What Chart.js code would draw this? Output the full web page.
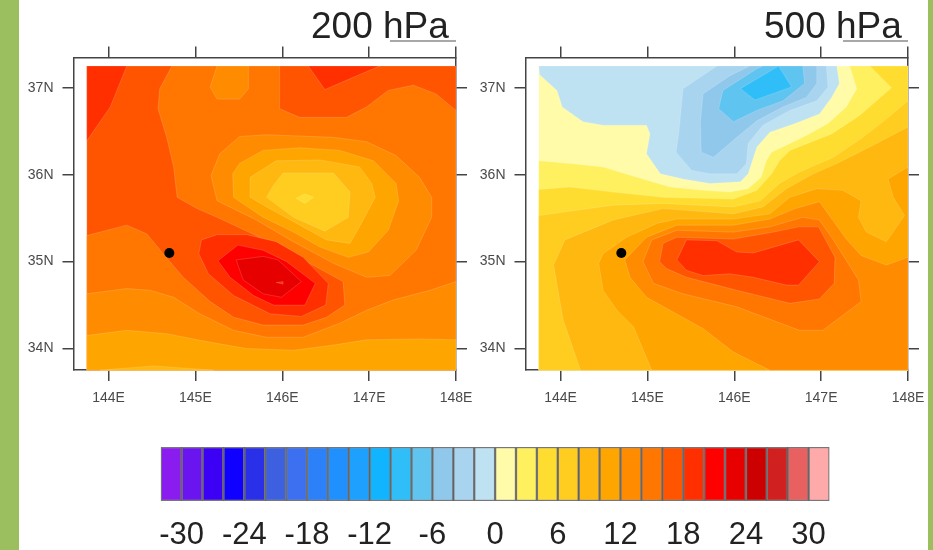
<!DOCTYPE html>
<html>
<head>
  <title>200 hPa / 500 hPa</title>
  <script src="https://cdn.jsdelivr.net/npm/chart.js"></script>
  <style>
    html, body { margin: 0; padding: 0; background: #fff; }
    body { width: 933px; height: 550px; position: relative; overflow: hidden; font-family: "Liberation Sans", sans-serif; }
    .strip { position: absolute; top: 0; height: 550px; background: #9bbf5e; z-index: 2; }
    /* the source picture is a soft screenshot */
    canvas { position: absolute; filter: blur(0.6px); }
    .title { position: absolute; top: 4px; font-size: 37px; line-height: 44px; color: #222; white-space: nowrap; }
    .crumb { position: absolute; top: 40px; height: 2px; background: #a8a8a8; }
  </style>
</head>
<body>
  <div class="strip" style="left:0;width:19px"></div>
  <div class="strip" style="left:928px;width:5px"></div>

  <canvas id="map200" width="470" height="370" style="left:20px;top:40px"></canvas>
  <canvas id="map500" width="470" height="370" style="left:472px;top:40px"></canvas>
  <canvas id="colorBar" width="800" height="120" style="left:100px;top:430px"></canvas>

  <div class="title" style="left:311px">200 hPa</div>
  <div class="title" style="left:764px">500 hPa</div>
  <div class="crumb" style="left:390px;width:66px"></div>
  <div class="crumb" style="left:843px;width:65px"></div>

  <script>
    const lonTicks = [144, 145, 146, 147, 148];
    const latTicks = [34, 35, 36, 37];
    const barTicks = [-30, -24, -18, -12, -6, 0, 6, 12, 18, 24, 30];
    const station = [144.7, 35.1];

    // colour bar: 2 unit bins from -32 to 32
    const barEdges = [-32, -30, -28, -26, -24, -22, -20, -18, -16, -14, -12, -10, -8, -6, -4, -2, 0,
      2, 4, 6, 8, 10, 12, 14, 16, 18, 20, 22, 24, 26, 28, 30, 32];
    const barColors = ['#8a1cf0', '#6a14f0', '#3c00f5', '#1000ff', '#2a30e8', '#3c60e0', '#3c70f0', '#2c80f8',
      '#2090ff', '#1ea0ff', '#10b4ff', '#30bef8', '#60c4f0', '#90c8ec', '#a8d4f0', '#bee2f2',
      '#fffba8', '#fff060', '#ffdd30', '#ffcc20', '#ffb810', '#ffa500', '#ff8c00', '#ff7700',
      '#ff5500', '#ff2f00', '#ff0000', '#e60000', '#cc0000', '#d02020', '#e86060', '#ffaaaa'];

    // 200 hPa contour rings, [lon, lat]
    const full = [[143.75, 37.25], [148, 37.25], [148, 33.75], [143.75, 33.75]];
    const a200TopLeft = [[143.75, 37.25], [144.21, 37.25], [144.02, 36.78], [143.75, 36.39]];
    const a200TopMid = [[146.30, 37.25], [147.12, 37.25], [146.49, 36.98]];
    const a200Main = [[144.73, 37.25], [144.59, 36.99], [144.57, 36.76], [144.67, 36.43], [144.75, 36.09], [144.79, 35.74],
      [145.02, 35.61], [145.25, 35.51], [145.70, 35.30], [146.05, 35.11], [146.39, 34.94], [146.70, 34.77], [146.72, 34.50],
      [146.51, 34.36], [146.24, 34.27], [145.78, 34.27], [145.44, 34.36], [145.17, 34.54], [144.86, 34.82], [144.63, 35.09],
      [144.44, 35.32], [144.21, 35.42], [143.75, 35.30], [143.75, 33.75], [148, 33.75], [148, 36.74], [147.77, 36.93],
      [147.51, 37.03], [147.22, 36.97], [146.97, 36.78], [146.74, 36.66], [146.20, 36.66], [145.97, 36.76], [145.97, 37.25]];
    const a200South12 = [[143.75, 34.63], [144.21, 34.69], [144.48, 34.67], [144.75, 34.59], [145.05, 34.40], [145.44, 34.21],
      [145.82, 34.13], [146.24, 34.13], [146.66, 34.29], [146.97, 34.44], [147.28, 34.56], [147.70, 34.67], [148, 34.77],
      [148, 33.75], [143.75, 33.75]];
    const a200South10 = [[143.75, 34.15], [144.21, 34.21], [144.67, 34.17], [145.13, 34.08], [145.59, 34.00], [146.13, 33.98],
      [146.59, 34.04], [146.97, 34.10], [147.58, 34.11], [148, 34.10], [148, 33.75], [143.75, 33.75]];
    const a200South8 = [[143.90, 33.75], [144.52, 33.80], [145.21, 33.75]];
    const a200Patch = [[145.25, 37.25], [145.61, 37.25], [145.61, 36.99], [145.51, 36.87], [145.25, 36.87], [145.17, 37.01]];
    const a200Low12 = [[145.51, 36.44], [145.82, 36.46], [146.59, 36.43], [146.97, 36.38], [147.31, 36.22], [147.58, 35.97],
      [147.72, 35.74], [147.72, 35.51], [147.54, 35.13], [147.24, 34.84], [146.97, 34.82], [146.59, 34.98], [146.09, 35.25],
      [145.70, 35.48], [145.25, 35.70], [145.18, 35.99], [145.28, 36.24]];
    const a200Low10 = [[145.78, 36.28], [146.20, 36.31], [146.66, 36.28], [147.05, 36.16], [147.31, 35.90], [147.34, 35.70],
      [147.22, 35.36], [146.99, 35.11], [146.76, 35.05], [146.43, 35.17], [146.13, 35.34], [145.78, 35.51], [145.44, 35.74],
      [145.43, 36.01], [145.51, 36.13]];
    const a200Low8 = [[145.93, 36.16], [146.43, 36.17], [146.89, 36.09], [147.03, 35.90], [147.07, 35.74], [146.91, 35.44],
      [146.78, 35.21], [146.51, 35.25], [146.13, 35.46], [145.82, 35.63], [145.63, 35.74], [145.63, 35.97]];
    const a200Low6 = [[146.01, 36.02], [146.59, 36.02], [146.78, 35.80], [146.76, 35.51], [146.49, 35.35], [146.13, 35.51],
      [145.82, 35.74], [145.90, 35.88]];
    const a200Low4 = [[146.16, 35.73], [146.26, 35.78], [146.36, 35.74], [146.26, 35.67]];
    const a200High18 = [[145.25, 35.31], [145.59, 35.31], [145.93, 35.23], [146.24, 35.05], [146.53, 34.75], [146.50, 34.50],
      [146.22, 34.37], [145.86, 34.40], [145.44, 34.61], [145.15, 34.86], [145.04, 35.09], [145.07, 35.25]];
    const a200High20 = [[145.49, 35.19], [145.78, 35.13], [146.05, 35.00], [146.38, 34.75], [146.26, 34.50], [145.90, 34.50],
      [145.67, 34.61], [145.40, 34.82], [145.26, 35.01]];
    const a200High22 = [[145.47, 35.02], [145.78, 35.06], [145.95, 35.02], [146.22, 34.77], [145.99, 34.59], [145.78, 34.63],
      [145.55, 34.79]];
    const a200Spot = [[145.93, 34.76], [146.01, 34.77], [146.01, 34.74]];

    // 500 hPa contour rings, [lon, lat]
    const b500Ge2 = [[143.75, 36.16], [144.11, 36.13], [144.49, 36.09], [144.88, 35.97], [145.26, 35.86], [145.64, 35.82],
      [145.95, 35.80], [146.16, 35.84], [146.31, 35.97], [146.37, 36.16], [146.43, 36.26], [146.60, 36.34], [146.83, 36.45],
      [147.08, 36.59], [147.29, 36.78], [147.41, 36.99], [147.33, 37.25], [148, 37.25], [148, 33.75], [143.75, 33.75]];
    const b500Ge4 = [[143.75, 35.83], [144.11, 35.86], [144.61, 35.80], [145.18, 35.74], [145.99, 35.72], [146.26, 35.82],
      [146.43, 36.01], [146.52, 36.16], [146.64, 36.28], [146.79, 36.34], [147.12, 36.47], [147.44, 36.68], [147.81, 37.00],
      [147.56, 37.25], [148, 37.25], [148, 33.75], [143.75, 33.75]];
    const b500Ge6 = [[143.75, 35.53], [144.03, 35.57], [144.61, 35.65], [145.18, 35.67], [145.99, 35.63], [146.30, 35.70],
      [146.52, 35.90], [146.75, 36.03], [147.14, 36.20], [147.48, 36.43], [147.75, 36.64], [148, 36.85], [148, 33.75], [143.75, 33.75]];
    const b500Ge8 = [[144.23, 33.75], [144.03, 34.33], [143.92, 34.96], [144.05, 35.25], [144.61, 35.48], [145.18, 35.61],
      [145.99, 35.55], [146.33, 35.63], [146.60, 35.84], [146.91, 36.01], [147.18, 36.13], [147.56, 36.32], [148, 36.55], [148, 33.75]];
    const b500Ge10 = [[145.05, 33.75], [144.84, 34.25], [144.65, 34.44], [144.49, 34.67], [144.44, 34.98], [144.49, 35.09],
      [144.76, 35.28], [145.11, 35.44], [145.34, 35.49], [145.99, 35.49], [146.41, 35.55], [146.64, 35.74], [146.95, 35.84],
      [147.25, 35.82], [147.46, 35.70], [147.43, 35.51], [147.52, 35.34], [147.75, 35.23], [147.96, 35.53], [147.83, 35.74],
      [147.77, 35.95], [148, 36.09], [148, 33.75]];
    const b500Ge12 = [[146.41, 33.75], [145.99, 33.96], [145.64, 34.23], [145.26, 34.44], [144.99, 34.59], [144.80, 34.82],
      [144.74, 35.02], [144.99, 35.28], [145.34, 35.42], [145.99, 35.42], [146.41, 35.49], [146.70, 35.61], [146.98, 35.69],
      [147.29, 35.26], [147.46, 35.07], [147.75, 34.96], [148, 35.05], [148, 33.75]];
    const b500Ge14 = [[144.95, 35.00], [145.07, 34.75], [145.41, 34.63], [146.03, 34.48], [146.75, 34.21], [147.02, 34.21],
      [147.46, 34.54], [147.43, 34.79], [147.14, 35.25], [146.98, 35.48], [146.79, 35.51], [146.41, 35.40], [145.99, 35.34],
      [145.34, 35.36], [145.05, 35.25]];
    const b500Ge16 = [[145.14, 35.00], [145.18, 35.21], [145.34, 35.28], [145.99, 35.26], [146.45, 35.34], [146.74, 35.40],
      [146.97, 35.40], [147.16, 35.05], [147.15, 34.75], [146.98, 34.57], [146.64, 34.52], [146.03, 34.67], [145.45, 34.82], [145.22, 34.92]];
    const b500Ge18 = [[145.34, 35.02], [145.45, 35.25], [145.80, 35.24], [146.03, 35.11], [146.22, 35.10], [146.74, 35.25],
      [146.98, 35.00], [146.74, 34.73], [146.60, 34.73], [146.22, 34.82], [145.95, 34.86], [145.64, 34.84], [145.45, 34.90]];
    const b500Lt0 = [[143.75, 37.25], [147.18, 37.25], [147.21, 37.05], [147.12, 36.89], [146.98, 36.70], [146.70, 36.59],
      [146.41, 36.49], [146.26, 36.32], [146.16, 36.01], [146.07, 35.92], [145.72, 35.90], [145.41, 35.95], [145.15, 36.01],
      [144.99, 36.24], [145.03, 36.47], [144.99, 36.57], [144.49, 36.57], [144.26, 36.61], [144.02, 36.78], [143.96, 36.97], [143.76, 37.15]];
    const b500Lt2 = [[145.41, 36.99], [145.80, 37.25], [147.06, 37.25], [147.08, 37.01], [146.95, 36.85], [146.64, 36.74],
      [146.33, 36.57], [146.16, 36.36], [146.14, 36.13], [146.03, 36.01], [145.72, 36.01], [145.51, 36.05], [145.33, 36.26], [145.36, 36.47]];
    const b500Lt4 = [[145.64, 36.93], [145.95, 37.14], [146.18, 37.25], [146.95, 37.25], [146.95, 37.05], [146.83, 36.89],
      [146.56, 36.78], [146.26, 36.62], [146.03, 36.43], [145.76, 36.20], [145.62, 36.26], [145.61, 36.59]];
    const b500Lt6 = [[145.82, 36.76], [145.87, 36.97], [146.26, 37.22], [146.33, 37.25], [146.79, 37.25], [146.81, 37.05],
      [146.56, 36.85], [146.26, 36.74], [145.99, 36.61]];
    const b500Lt8 = [[146.07, 36.99], [146.51, 37.25], [146.66, 37.01], [146.24, 36.86]];

    // painting order, bottom first: [bin lower edge, ring]
    const layers200 = [[16, full], [18, a200TopLeft], [18, a200TopMid], [14, a200Main], [12, a200South12], [10, a200South10],
      [8, a200South8], [12, a200Patch], [12, a200Low12], [10, a200Low10], [8, a200Low8], [6, a200Low6], [4, a200Low4],
      [18, a200High18], [20, a200High20], [22, a200High22], [18, a200Spot]];
    const layers500 = [[0, full], [2, b500Ge2], [4, b500Ge4], [6, b500Ge6], [8, b500Ge8], [10, b500Ge10], [12, b500Ge12],
      [14, b500Ge14], [16, b500Ge16], [18, b500Ge18], [-2, b500Lt0], [-4, b500Lt2], [-6, b500Lt4], [-8, b500Lt6], [-10, b500Lt8]];

    const axisColor = '#444';

    // fills each contour ring from the points the scales placed
    const ringFill = {
      id: 'ringFill',
      beforeDatasetDraw(chart, args) {
        const ds = chart.data.datasets[args.index];
        if (!ds.ring) return;
        const ctx = chart.ctx;
        ctx.save();
        ctx.beginPath();
        args.meta.data.forEach((p, i) => i ? ctx.lineTo(p.x, p.y) : ctx.moveTo(p.x, p.y));
        ctx.closePath();
        ctx.fillStyle = ds.backgroundColor;
        ctx.fill();
        ctx.strokeStyle = 'rgba(255,255,255,0.22)';
        ctx.lineWidth = 0.7;
        ctx.stroke();
        ctx.restore();
      }
    };

    function mapAxis(position, min, max, ticks, suffix, size, labels) {
      return {
        type: 'linear',
        position: position,
        min: min,
        max: max,
        afterBuildTicks(scale) { scale.ticks = ticks.map(v => ({ value: v })); },
        afterFit(scale) {
          if (scale.isHorizontal()) scale.height = size; else scale.width = size;
        },
        border: { display: true, color: axisColor, width: 1.5 },
        grid: { drawOnChartArea: false, color: axisColor, lineWidth: 1.5, tickLength: 11 },
        ticks: {
          display: labels,
          autoSkip: false,
          maxRotation: 0,
          padding: 9,
          color: '#4a4a4a',
          font: { family: '"Liberation Sans"', size: 14 },
          callback: v => v + suffix
        }
      };
    }

    function drawMap(id, layers) {
      const datasets = layers.map((layer, i) => ({
        ring: true,
        order: layers.length - i + 1,
        data: layer[1].map(p => ({ x: p[0], y: p[1] })),
        backgroundColor: barColors[barEdges.indexOf(layer[0])],
        showLine: false,
        pointRadius: 0
      }));
      datasets.push({
        order: 0,
        data: [{ x: station[0], y: station[1] }],
        backgroundColor: '#000',
        borderWidth: 0,
        pointRadius: 5
      });
      new Chart(document.getElementById(id), {
        type: 'scatter',
        data: { datasets: datasets },
        plugins: [ringFill],
        options: {
          responsive: false,
          animation: false,
          layout: { padding: 0 },
          plugins: { legend: { display: false }, tooltip: { enabled: false } },
          scales: {
            x: mapAxis('bottom', 143.597, 148, lonTicks, 'E', 40, true),
            y: mapAxis('left', 33.753, 37.35, latTicks, 'N', 53.5, true),
            x2: mapAxis('top', 143.597, 148, lonTicks, '', 17, false),
            y2: mapAxis('right', 33.753, 37.35, latTicks, '', 34, false)
          }
        }
      });
    }

    drawMap('map200', layers200);
    drawMap('map500', layers500);

    new Chart(document.getElementById('colorBar'), {
      type: 'bar',
      data: {
        labels: [''],
        datasets: barColors.map((c, i) => ({
          data: [[barEdges[i], barEdges[i + 1]]],
          backgroundColor: c,
          borderColor: 'rgba(35,35,35,0.62)',
          borderWidth: 1.5,
          borderSkipped: false,
          grouped: false,
          barPercentage: 1,
          categoryPercentage: 1
        }))
      },
      options: {
        indexAxis: 'y',
        responsive: false,
        animation: false,
        layout: { padding: { left: 60.7, right: 70.5, top: 17, bottom: 0 } },
        plugins: { legend: { display: false }, tooltip: { enabled: false } },
        scales: {
          y: { display: false },
          x: {
            type: 'linear',
            min: -32,
            max: 32,
            afterBuildTicks(scale) { scale.ticks = barTicks.map(v => ({ value: v })); },
            afterFit(scale) { scale.height = 49; },
            border: { display: false },
            grid: { display: false },
            ticks: {
              autoSkip: false,
              maxRotation: 0,
              padding: 8,
              color: '#222',
              font: { family: '"Liberation Sans"', size: 31 }
            }
          }
        }
      }
    });
  </script>
</body>
</html>
